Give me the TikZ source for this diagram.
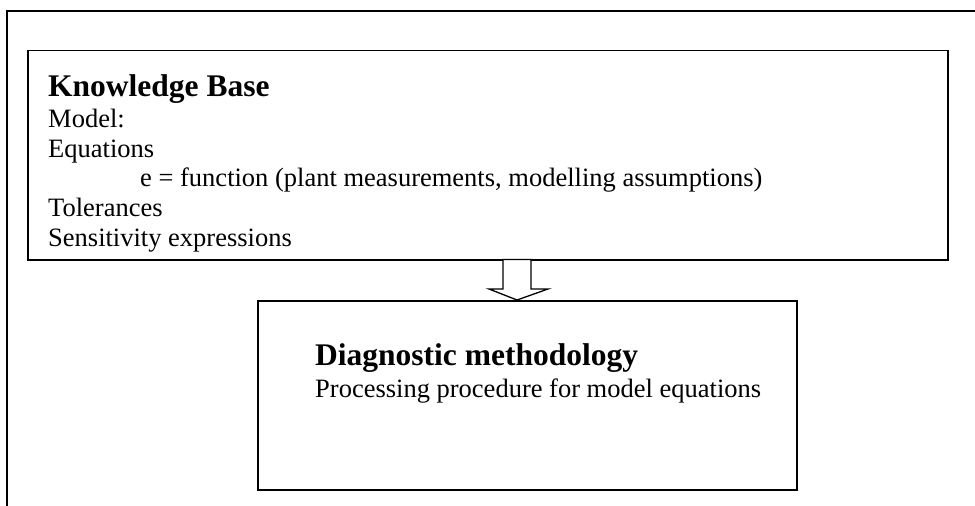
\documentclass[tikz,border=0pt]{standalone}
\usepackage{fontspec}
\setmainfont{Liberation Serif}
\begin{document}
\begin{tikzpicture}[x=1pt,y=-1pt,
  boxstyle/.style={draw=black,line width=1.8pt,fill=white,inner sep=0pt,anchor=north west},
  headtxt/.style={anchor=base west,inner sep=0pt,font=\fontsize{31.5}{36}\selectfont\bfseries},
  bodytxt/.style={anchor=base west,inner sep=0pt,font=\fontsize{26.5}{30}\selectfont},
  framestyle/.style={draw=black,line width=1.4pt}]
\useasboundingbox (0,0) rectangle (975,506);
% outer frame (left and top edges)
\coordinate (fb) at (7,507);
\coordinate (fc) at (7,11);
\coordinate (fr) at (976,11);
\draw[framestyle] (fb) -- (fc) -- (fr);
% knowledge base box
\node[boxstyle,minimum width=920pt,minimum height=209.5pt] (kb) at (27,49.5) {};
\node[headtxt] (kbh) at (48,96) {Knowledge Base};
\node[bodytxt] (kb1) at (48,127.5) {Model:};
\node[bodytxt] (kb2) at (48,157) {Equations};
\node[bodytxt] (kb3) at (140,186.5) {e = function (plant measurements, modelling assumptions)};
\node[bodytxt] (kb4) at (48,216.5) {Tolerances};
\node[bodytxt] (kb5) at (48,246) {Sensitivity expressions};
% diagnostic box
\node[boxstyle,minimum width=539pt,minimum height=189pt] (dm) at (257,300) {};
\node[headtxt] (dmh) at (315,365) {Diagnostic methodology};
\node[bodytxt] (dm1) at (315,397) {Processing procedure for model equations};
% block arrow
\draw[line width=1.3pt,fill=white] (503,259.5) -- (531,259.5) -- (531,289) -- (548,289)
  -- (517,300) -- (489,289) -- (503,289) -- cycle;
\end{tikzpicture}
\end{document}
